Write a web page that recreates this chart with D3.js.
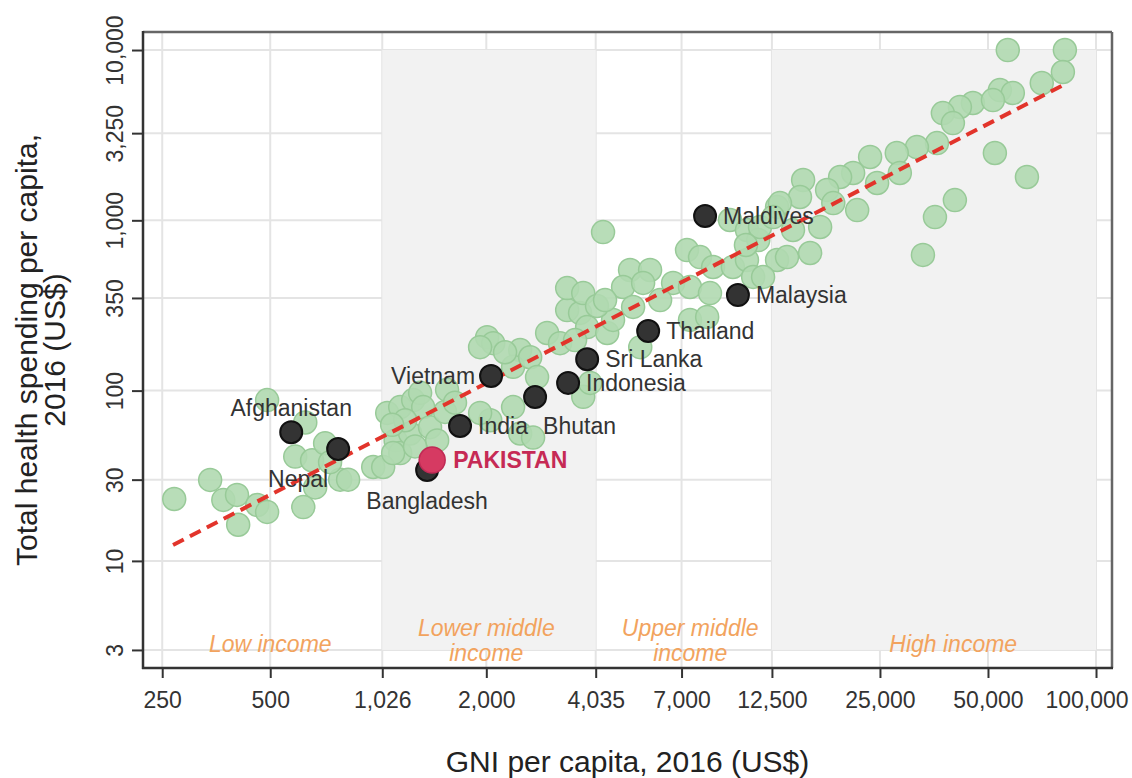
<!DOCTYPE html>
<html lang="en">
<head>
<meta charset="UTF-8">
<title>Health spending vs GNI per capita</title>
<style>
  body { margin: 0; background: #fff; }
  svg { display: block; font-family: "Liberation Sans", Arial, sans-serif; }
  .axis path { display: none; }
  .axis line { stroke: #333; stroke-width: 2px; }
  .axis text { font-size: 23px; fill: #333; }
  .grid line { stroke: #e4e4e4; stroke-width: 2px; }
  .country { font-size: 23px; fill: #333; }
  .pakistan { font-size: 23px; font-weight: bold; fill: #c62a55; }
  .income { font-size: 23px; font-style: italic; fill: #f2a35e; }
  .title { font-size: 30px; fill: #222; }
</style>
</head>
<body>
<svg height="778" width="1132"></svg>

<script src="https://d3js.org/d3.v7.min.js"></script>
<script>

  var xTicks = [250, 500, 1026, 2000, 4035, 7000, 12500, 25000, 50000, 100000];
  var yTicks = [3, 10, 30, 100, 350, 1000, 3250, 10000];

  // shaded income bands (lower middle, high)
  var bandFrom = [1026, 12500];
  var bandTo = [4035, 100000];

  var incomeNames = [["Low income"], ["Lower middle", "income"], ["Upper middle", "income"], ["High income"]];
  var incomeAt = [500, 2000, 7400, 40000];

  // all other countries (green)
  var otherGNI = [
    270, 340, 370, 404, 407, 460, 490, 490, 626, 587, 654, 711, 667, 618, 783, 824, 968, 734,
    1059, 1151, 1251, 1308, 1334, 1118, 1151, 1227, 1394, 1459, 1032, 1100, 2011, 2091, 1922,
    2485, 2375, 2650, 2770, 2955, 3210, 3360, 3650, 3820, 2375, 2051, 1922, 2485, 2700, 3725,
    3895, 1555, 1189, 1535, 2256, 1093, 1266, 3535, 1636,
    4230, 3360, 3725, 5030, 5720, 4810, 5470, 6630, 7250, 7880, 8570, 9730, 10650, 11080, 9550,
    10650, 12920, 12920, 7390, 8400, 4345, 4510, 5130, 5370, 7390, 8250, 4070, 6100, 4285,
    11450, 11580, 10580,
    56770, 81890, 80850, 70600, 53960, 58640, 45390, 41760, 37430, 39920, 51620, 36050, 31690,
    27850, 28400, 23470, 24550, 21050, 19360, 17810, 15270, 14970, 13160, 12600, 14310, 17030,
    21600, 18530, 13770, 15970, 52260, 64200, 40430, 35580, 32940, 11810
  ];
  var otherHealth = [
    23.1, 29.9, 22.8, 24.4, 16.3, 21.3, 19.4, 88, 65, 41, 39, 49, 27, 20.7, 30, 30, 35.6, 38,
    74, 80, 88, 97, 80, 51, 43, 56, 61, 51, 35.6, 43, 206, 190, 180,
    173, 138, 157, 120, 218, 190, 297, 286, 236, 80, 67, 74, 56, 53, 92,
    111, 101, 67, 75, 168, 63, 47, 198, 85,
    853, 400, 374, 511, 511, 406, 429, 429, 669, 608, 532, 532, 585, 465, 1004,
    877, 1198, 585, 406, 374, 218, 260, 310, 180, 260, 271, 314, 340, 340,
    766, 914, 716,
    10000, 10000, 7430, 6400, 5820, 5595, 4885, 4630, 4265, 3725, 5085, 2843, 2693,
    2485, 1897, 2355, 1656, 1897, 1796, 1508, 1724, 1371, 1263, 1045, 877, 914,
    1149, 1263, 608, 643, 2485, 1796, 1315, 1045, 626, 465
  ];

  var highlightNames = ["Afghanistan", "Nepal", "Bangladesh", "India", "Bhutan", "Vietnam",
                        "Indonesia", "Sri Lanka", "Thailand", "Malaysia", "Maldives"];
  var highlightGNI = [572, 773, 1368, 1690, 2735, 2062, 3380, 3820, 5650, 10050, 8140];
  var highlightHealth = [57, 45.4, 34.2, 62, 91.7, 122, 111, 153, 224, 364, 1060];

  var pakistanGNI = [1413];
  var pakistanHealth = [39.1];

  var trendGNI = [268, 81900];
  var trendHealth = [12.4, 6300];

  // where each label sits relative to its dot
  var labelSide = {
    "Afghanistan": "above", "Nepal": "belowLeft", "Bangladesh": "below", "India": "right",
    "Bhutan": "belowRight", "Vietnam": "left", "Indonesia": "right", "Sri Lanka": "right",
    "Thailand": "right", "Malaysia": "right", "Maldives": "right"
  };

  var translate = function(x, y) {
    return "translate(" + x + "," + y + ")";
  }

  var margins = {top: 32, right: 20, bottom: 110, left: 143};
  var svgWidth = +d3.select("svg").attr("width");
  var svgHeight = +d3.select("svg").attr("height");
  var width = svgWidth - margins.left - margins.right;
  var height = svgHeight - margins.top - margins.bottom;

  var svg = d3.select("svg");
  var g = svg.append("g").attr("transform", translate(margins.left, margins.top));

  var gniToX = d3.scaleLog().domain([221, 110800]).range([0, width]);
  var healthToY = d3.scaleLog().domain([2.35, 12760]).range([height, 0]);

  // grid
  var grid = g.append("g").attr("class", "grid");
  grid.selectAll(".vgrid")
      .data(xTicks)
      .enter()
      .append("line")
      .attr("x1", function(d) { return gniToX(d); })
      .attr("x2", function(d) { return gniToX(d); })
      .attr("y1", 0)
      .attr("y2", height);
  grid.selectAll(".hgrid")
      .data(yTicks)
      .enter()
      .append("line")
      .attr("x1", 0)
      .attr("x2", width)
      .attr("y1", function(d) { return healthToY(d); })
      .attr("y2", function(d) { return healthToY(d); });

  // income bands
  g.selectAll(".band")
      .data(bandFrom)
      .enter()
      .append("rect")
      .attr("class", "band")
      .attr("x", function(d) { return gniToX(d); })
      .attr("width", function(d, i) { return gniToX(bandTo[i]) - gniToX(d); })
      .attr("y", healthToY(10000))
      .attr("height", healthToY(3) - healthToY(10000))
      .attr("fill", "#f2f2f2");

  // income labels
  var incomeText = g.selectAll(".income")
      .data(incomeNames)
      .enter()
      .append("text")
      .attr("class", "income")
      .attr("text-anchor", "middle");
  incomeText.selectAll("tspan")
      .data(function(d, i) {
        return d.map(function(line, j) { return {line: line, j: j, n: d.length, i: i}; });
      })
      .enter()
      .append("tspan")
      .attr("x", function(d) { return gniToX(incomeAt[d.i]); })
      .attr("y", function(d) {
        if (d.n === 1) return healthToY(3) + 2;
        return healthToY(3) - 14 + d.j * 25;
      })
      .text(function(d) { return d.line; });

  // other countries
  g.selectAll(".dot")
      .data(otherGNI)
      .enter()
      .append("circle")
      .attr("class", "dot")
      .attr("cx", function(d) { return gniToX(d); })
      .attr("cy", function(d, i) { return healthToY(otherHealth[i]); })
      .attr("r", 11.5)
      .attr("fill", "#b0d9b0")
      .attr("fill-opacity", 0.9)
      .attr("stroke", "#98ca98")
      .attr("stroke-width", 1.5);

  // trend line
  var trendLine = d3.line()
      .x(function(d) { return gniToX(d); })
      .y(function(d, i) { return healthToY(trendHealth[i]); });
  g.append("path")
      .datum(trendGNI)
      .attr("d", trendLine)
      .attr("fill", "none")
      .attr("stroke", "#e2342b")
      .attr("stroke-width", 4)
      .attr("stroke-dasharray", "12,7");

  // highlighted countries
  g.selectAll(".hi")
      .data(highlightGNI)
      .enter()
      .append("circle")
      .attr("class", "hi")
      .attr("cx", function(d) { return gniToX(d); })
      .attr("cy", function(d, i) { return healthToY(highlightHealth[i]); })
      .attr("r", 11)
      .attr("fill", "#333")
      .attr("stroke", "#111")
      .attr("stroke-width", 2);

  g.selectAll(".pk")
      .data(pakistanGNI)
      .enter()
      .append("circle")
      .attr("class", "pk")
      .attr("cx", function(d) { return gniToX(d); })
      .attr("cy", function(d, i) { return healthToY(pakistanHealth[i]); })
      .attr("r", 13)
      .attr("fill", "#d63a62")
      .attr("stroke", "#c02a55")
      .attr("stroke-width", 1.5);

  var sideX = {right: 18, left: -16, above: 0, below: 0, belowLeft: -10, belowRight: 8};
  var sideY = {right: 8, left: 8, above: -16, below: 39, belowLeft: 38, belowRight: 37};
  var sideAnchor = {right: "start", left: "end", above: "middle", below: "middle", belowLeft: "end", belowRight: "start"};

  g.selectAll(".country")
      .data(highlightNames)
      .enter()
      .append("text")
      .attr("class", "country")
      .attr("x", function(d, i) { return gniToX(highlightGNI[i]) + sideX[labelSide[d]]; })
      .attr("y", function(d, i) { return healthToY(highlightHealth[i]) + sideY[labelSide[d]]; })
      .attr("text-anchor", function(d) { return sideAnchor[labelSide[d]]; })
      .text(function(d) { return d; });

  g.append("text")
      .attr("class", "pakistan")
      .attr("x", gniToX(pakistanGNI[0]) + 21)
      .attr("y", healthToY(pakistanHealth[0]) + 8)
      .text("PAKISTAN");

  // axes
  var xAxis = d3.axisBottom(gniToX).tickValues(xTicks).tickSize(10).tickPadding(14).tickFormat(d3.format(","));
  var xAxisG = g.append("g")
      .attr("class", "x axis")
      .attr("transform", translate(0, height))
      .call(xAxis);
  xAxisG.selectAll(".tick:last-of-type text")
      .attr("text-anchor", "end")
      .attr("x", 32);

  var yAxis = d3.axisLeft(healthToY).tickValues(yTicks).tickSize(11).tickFormat(d3.format(","));
  g.append("g")
      .attr("class", "y axis")
      .call(yAxis)
      .selectAll("text")
      .attr("transform", "rotate(-90)")
      .attr("x", 0)
      .attr("y", -20)
      .attr("dy", 0)
      .attr("text-anchor", "middle");

  // frame
  g.append("line").attr("x1", 0).attr("x2", width).attr("y1", 0).attr("y2", 0)
      .attr("stroke", "#666").attr("stroke-width", 2.5);
  g.append("line").attr("x1", width).attr("x2", width).attr("y1", 0).attr("y2", height)
      .attr("stroke", "#666").attr("stroke-width", 2.5);
  g.append("line").attr("x1", 0).attr("x2", 0).attr("y1", -1).attr("y2", height + 1)
      .attr("stroke", "#333").attr("stroke-width", 2.5);
  g.append("line").attr("x1", -1).attr("x2", width + 1).attr("y1", height).attr("y2", height)
      .attr("stroke", "#333").attr("stroke-width", 2.5);

  // titles
  svg.append("text")
      .attr("class", "title")
      .attr("text-anchor", "middle")
      .attr("x", margins.left + width / 2)
      .attr("y", 772)
      .text("GNI per capita, 2016 (US$)");

  svg.append("text")
      .attr("class", "title")
      .attr("text-anchor", "middle")
      .attr("transform", translate(37, margins.top + height / 2) + " rotate(-90)")
      .text("Total health spending per capita,");

  svg.append("text")
      .attr("class", "title")
      .attr("text-anchor", "middle")
      .attr("transform", translate(65, margins.top + height / 2) + " rotate(-90)")
      .text("2016 (US$)");

</script>
</body>
</html>
